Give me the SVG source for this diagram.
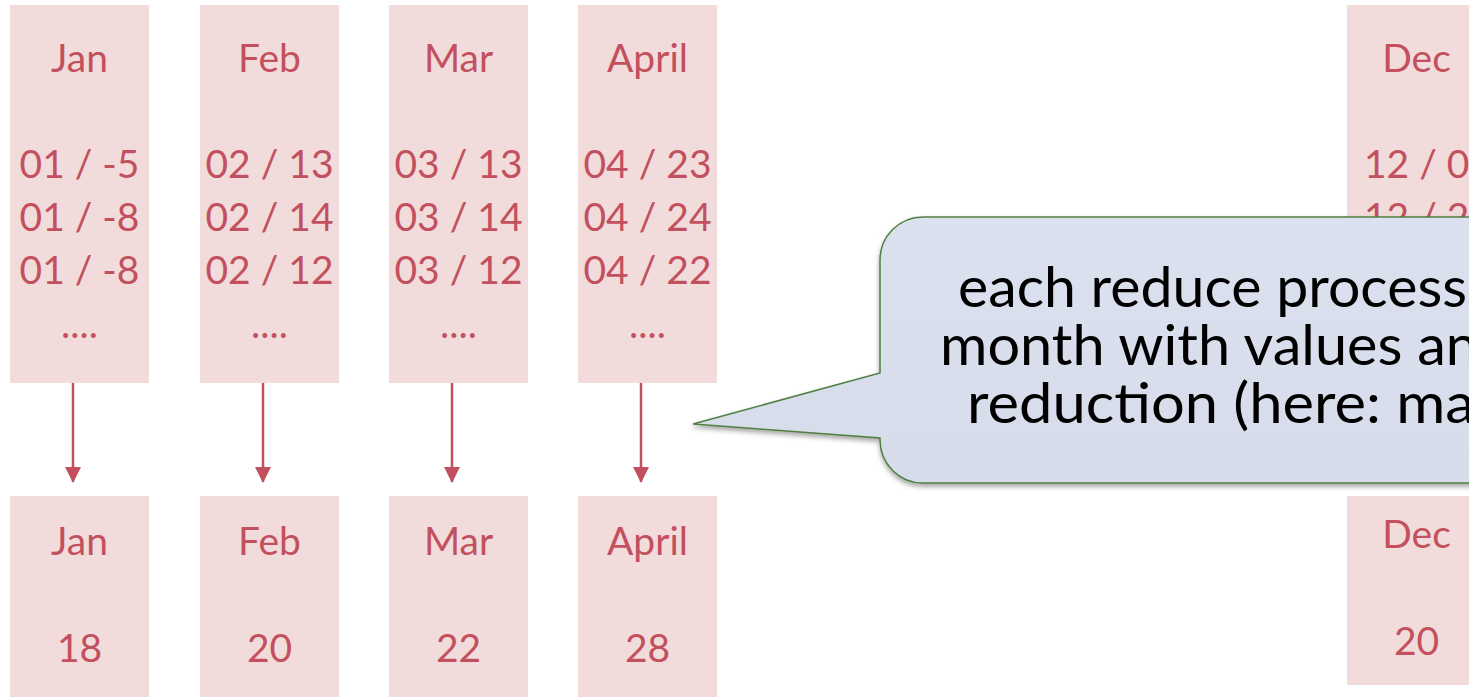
<svg xmlns="http://www.w3.org/2000/svg" width="1469" height="697" viewBox="0 0 1469 697">
  <defs>
    <style>
      .box { fill: #f2dcdb; }
      .lbl { font-family: Lato, "Liberation Sans", sans-serif; font-size: 39px; fill: #c3505e; text-anchor: middle; }
      .lbl-start { font-family: Lato, "Liberation Sans", sans-serif; font-size: 39px; fill: #c3505e; }
      .conn { stroke: #c3505e; stroke-width: 2.5; fill: none; marker-end: url(#head); }
      .callout { fill: url(#calloutFill); stroke: #4f7f40; stroke-width: 1.5; filter: url(#shadow); }
      .note { font-family: Lato, "Liberation Sans", sans-serif; font-size: 57px; fill: #000; }
    </style>
    <marker id="head" viewBox="0 0 16 16" refX="15" refY="8" markerWidth="16" markerHeight="16" markerUnits="userSpaceOnUse" orient="auto">
      <path d="M0,0 L16,8 L0,16 Z" fill="#c3505e"/>
    </marker>
    <linearGradient id="calloutFill" x1="0" y1="0" x2="0" y2="1">
      <stop offset="0" stop-color="#dbe1ee"/>
      <stop offset="1" stop-color="#d6dcea"/>
    </linearGradient>
    <filter id="shadow" x="-10%" y="-10%" width="120%" height="130%">
      <feDropShadow dx="0" dy="3" stdDeviation="2.5" flood-color="#000" flood-opacity="0.35"/>
    </filter>
  </defs>

  <!-- mapped input columns, one per month -->
  <g id="in-jan">
    <rect class="box" x="10" y="5" width="139" height="378"/>
    <text class="lbl" x="79.5" y="72">Jan</text>
    <text class="lbl" x="79.5" y="178">01 / -5</text>
    <text class="lbl" x="79.5" y="231">01 / -8</text>
    <text class="lbl" x="79.5" y="284">01 / -8</text>
    <text class="lbl" x="79.5" y="338">....</text>
  </g>
  <g id="in-feb">
    <rect class="box" x="200" y="5" width="139" height="378"/>
    <text class="lbl" x="269.5" y="72">Feb</text>
    <text class="lbl" x="269.5" y="178">02 / 13</text>
    <text class="lbl" x="269.5" y="231">02 / 14</text>
    <text class="lbl" x="269.5" y="284">02 / 12</text>
    <text class="lbl" x="269.5" y="338">....</text>
  </g>
  <g id="in-mar">
    <rect class="box" x="389" y="5" width="139" height="378"/>
    <text class="lbl" x="458.5" y="72">Mar</text>
    <text class="lbl" x="458.5" y="178">03 / 13</text>
    <text class="lbl" x="458.5" y="231">03 / 14</text>
    <text class="lbl" x="458.5" y="284">03 / 12</text>
    <text class="lbl" x="458.5" y="338">....</text>
  </g>
  <g id="in-apr">
    <rect class="box" x="578" y="5" width="139" height="378"/>
    <text class="lbl" x="647.5" y="72">April</text>
    <text class="lbl" x="647.5" y="178">04 / 23</text>
    <text class="lbl" x="647.5" y="231">04 / 24</text>
    <text class="lbl" x="647.5" y="284">04 / 22</text>
    <text class="lbl" x="647.5" y="338">....</text>
  </g>
  <g id="in-dec">
    <rect class="box" x="1347" y="5" width="139" height="378"/>
    <text class="lbl" x="1416.5" y="72">Dec</text>
    <text class="lbl-start" x="1364" y="178">12 / 0</text>
    <text class="lbl-start" x="1364" y="231">12 / 2</text>
  </g>

  <!-- reduced results -->
  <g id="out-jan">
    <rect class="box" x="10" y="496" width="139" height="201"/>
    <text class="lbl" x="79.5" y="555">Jan</text>
    <text class="lbl" x="79.5" y="662">18</text>
  </g>
  <g id="out-feb">
    <rect class="box" x="200" y="496" width="139" height="201"/>
    <text class="lbl" x="269.5" y="555">Feb</text>
    <text class="lbl" x="269.5" y="662">20</text>
  </g>
  <g id="out-mar">
    <rect class="box" x="389" y="496" width="139" height="201"/>
    <text class="lbl" x="458.5" y="555">Mar</text>
    <text class="lbl" x="458.5" y="662">22</text>
  </g>
  <g id="out-apr">
    <rect class="box" x="578" y="496" width="139" height="201"/>
    <text class="lbl" x="647.5" y="555">April</text>
    <text class="lbl" x="647.5" y="662">28</text>
  </g>
  <g id="out-dec">
    <rect class="box" x="1347" y="496" width="139" height="189"/>
    <text class="lbl" x="1416.5" y="548">Dec</text>
    <text class="lbl" x="1416.5" y="655">20</text>
  </g>

  <!-- reduce steps -->
  <g id="connectors">
    <line class="conn" x1="73" y1="383" x2="73" y2="482"/>
    <line class="conn" x1="263" y1="383" x2="263" y2="482"/>
    <line class="conn" x1="452" y1="383" x2="452" y2="482"/>
    <line class="conn" x1="641" y1="383" x2="641" y2="482"/>
  </g>

  <!-- speech bubble -->
  <g id="callout">
    <path class="callout" d="M923,217 H1500 V483 H923 A43,43 0 0 1 880,440 V438 L693,424 L880,373 V260 A43,43 0 0 1 923,217 Z"/>
    <text class="note" x="958" y="307" textLength="509" lengthAdjust="spacingAndGlyphs">each reduce process</text>
    <text class="note" x="940" y="365" textLength="538" lengthAdjust="spacingAndGlyphs">month with values an</text>
    <text class="note" x="967" y="423" textLength="508" lengthAdjust="spacingAndGlyphs">reduction (here: ma</text>
  </g>
</svg>
